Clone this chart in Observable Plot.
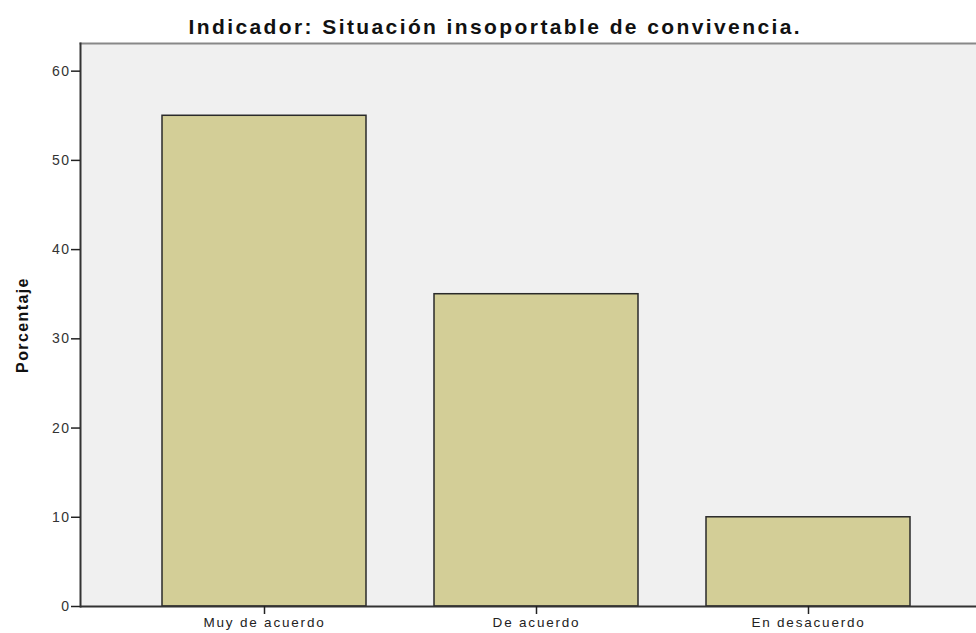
<!DOCTYPE html>
<html>
<head>
<meta charset="utf-8">
<script src="https://cdn.jsdelivr.net/npm/d3@7"></script>
<script src="https://cdn.jsdelivr.net/npm/@observablehq/plot@0.6"></script>
<style>
  body { margin: 0; background: #fff; }
  #chart svg { display: block; }
  #chart g[aria-label="y-axis tick label"] text { letter-spacing: 1.5px; }
  #chart g[aria-label="x-axis tick label"] text { letter-spacing: 1.8px; }
</style>
</head>
<body>
<div id="chart"></div>
<script>
const categories = ["Muy de acuerdo", "De acuerdo", "En desacuerdo"];
const porcentajes = [55, 35, 10];
const yTicks = [0, 10, 20, 30, 40, 50, 60];
const titulo = "Indicador: Situación insoportable de convivencia.";
const yLabel = "Porcentaje";

const data = categories.map((c, i) => ({categoria: c, porcentaje: porcentajes[i]}));

const chart = Plot.plot({
  width: 976,
  height: 633,
  marginTop: 43,
  marginBottom: 27,
  marginLeft: 80,
  marginRight: 0,
  style: {fontFamily: "Liberation Sans, Arial, sans-serif", background: "#fff", overflow: "hidden"},
  x: {domain: categories, range: [80, 991], paddingInner: 0.25, paddingOuter: 0.296, label: null},
  y: {domain: [0, 63.1], label: null},
  marks: [
    Plot.frame({fill: "#f0f0f0", stroke: "none"}),
    Plot.frame({anchor: "top", stroke: "#888", strokeWidth: 2}),
    Plot.barY(data, {x: "categoria", y: "porcentaje", fill: "#d3ce97", stroke: "#2a2a2a", strokeWidth: 1.5}),
    Plot.frame({anchor: "left", stroke: "#333", strokeWidth: 2}),
    Plot.ruleY([0], {stroke: "#333", strokeWidth: 2}),
    Plot.axisY({ticks: yTicks, tickSize: 9, tickPadding: 1, fontSize: 14, fill: "#333", stroke: "#222", strokeWidth: 1.5, label: null}),
    Plot.axisX({tickSize: 8, tickPadding: 3, fontSize: 13.5, fill: "#222", stroke: "#222", strokeWidth: 1.5, label: null}),
    Plot.text([yLabel], {frameAnchor: "left", textAnchor: "middle", dx: -58, rotate: -90, fontSize: 16, fontWeight: "bold", fill: "#111"}),
    Plot.text([titulo], {frameAnchor: "top-left", textAnchor: "start", dx: 108, dy: -24, fontSize: 21, fontWeight: "bold", fill: "#111"})
  ]
});
d3.select(chart).selectAll("text")
  .filter(function() { return this.textContent === titulo; })
  .style("letter-spacing", "2.4px");
d3.select(chart).selectAll("text")
  .filter(function() { return this.textContent === yLabel; })
  .style("letter-spacing", "1.4px");
document.getElementById("chart").appendChild(chart);
</script>
</body>
</html>
